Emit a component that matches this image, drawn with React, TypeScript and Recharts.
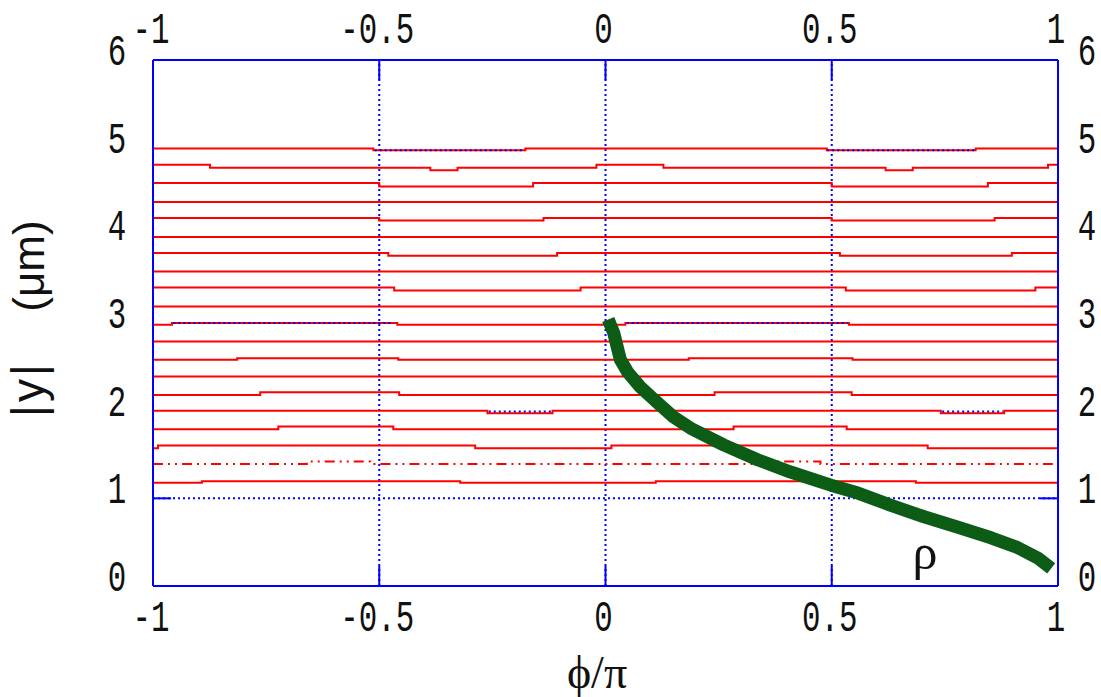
import * as React from 'react';
import { LineChart, Line, XAxis, YAxis, ReferenceLine } from 'recharts';

type P = [number, number];

// x ticks (phi/pi) and y ticks (|y| in um)
const xTicks = [-1, -0.5, 0, 0.5, 1];
const yTicks = [0, 1, 2, 3, 4, 5, 6];
const xGrid = [-0.5, 0, 0.5];
const yGrid = [1];

// red contours, [x where the level starts, level] (step after)
const c01: P[] = [[-1, 4.99], [-0.513, 4.97], [-0.177, 4.99], [0.489, 4.97], [0.818, 4.99], [1, 4.99]];
const c02: P[] = [[-1, 4.806], [-0.874, 4.772], [-0.387, 4.741], [-0.327, 4.772], [-0.02, 4.806], [0.128, 4.772], [0.619, 4.741], [0.679, 4.772], [0.978, 4.806], [1, 4.806]];
const c03: P[] = [[-1, 4.597], [-0.5, 4.558], [-0.16, 4.597], [0.5, 4.558], [0.845, 4.597], [1, 4.597]];
const c04: P[] = [[-1, 4.38], [1, 4.38]];
const c05: P[] = [[-1, 4.198], [-0.5, 4.17], [-0.137, 4.198], [0.5, 4.17], [0.86, 4.198], [1, 4.198]];
const c06: P[] = [[-1, 3.981], [1, 3.981]];
const c07: P[] = [[-1, 3.798], [-0.48, 3.767], [-0.107, 3.798], [0.518, 3.767], [0.898, 3.798], [1, 3.798]];
const c08: P[] = [[-1, 3.588], [1, 3.588]];
const c09: P[] = [[-1, 3.405], [-0.467, 3.371], [-0.055, 3.405], [0.531, 3.371], [0.95, 3.405], [1, 3.405]];
const c10: P[] = [[-1, 3.188], [1, 3.188]];
const c11: P[] = [[-1, 2.979], [-0.958, 2.999], [-0.46, 2.979], [0.044, 2.999], [0.538, 2.979], [1, 2.979]];
const c12: P[] = [[-1, 2.789], [1, 2.789]];
const c13: P[] = [[-1, 2.58], [-0.814, 2.599], [-0.458, 2.58], [0.184, 2.599], [0.546, 2.58], [1, 2.58]];
const c14: P[] = [[-1, 2.389], [1, 2.389]];
const c15: P[] = [[-1, 2.18], [-0.763, 2.211], [-0.456, 2.18], [0.241, 2.211], [0.544, 2.18], [1, 2.18]];
const c16: P[] = [[-1, 1.998], [-0.261, 1.971], [-0.117, 1.998], [0.741, 1.971], [0.881, 1.998], [1, 1.998]];
const c17: P[] = [[-1, 1.789], [-0.723, 1.818], [-0.469, 1.789], [0.283, 1.818], [0.533, 1.789], [1, 1.789]];
const c18: P[] = [[-1, 1.572], [-0.989, 1.602], [-0.288, 1.572], [0.013, 1.602], [0.712, 1.572], [1, 1.572]];
const c20: P[] = [[-1, 1.179], [-0.892, 1.196], [-0.321, 1.179], [0.111, 1.196], [0.686, 1.179], [1, 1.179]];
// dash-dot one
const c19: P[] = [[-1, 1.393], [-0.66, 1.419], [-0.52, 1.393], [0.343, 1.419], [0.475, 1.393], [1, 1.393]];

// blue dotted pieces lying on some contours
const b01a: P[] = [[-0.51, 4.97], [-0.18, 4.97]];
const b01b: P[] = [[0.49, 4.97], [0.815, 4.97]];
const b11a: P[] = [[-0.955, 2.999], [-0.47, 2.999]];
const b11b: P[] = [[0.047, 2.999], [0.535, 2.999]];
const b16a: P[] = [[-0.258, 1.99], [-0.12, 1.99]];
const b16b: P[] = [[0.744, 1.99], [0.878, 1.99]];

// rho curve
const rho: P[] = [
  [0.006, 3.04], [0.018, 2.89], [0.033, 2.58], [0.049, 2.44], [0.077, 2.27], [0.115, 2.09],
  [0.15, 1.93], [0.188, 1.8], [0.261, 1.61], [0.336, 1.44], [0.409, 1.3], [0.498, 1.15],
  [0.558, 1.06], [0.631, 0.92], [0.704, 0.79], [0.779, 0.67], [0.852, 0.55], [0.91, 0.44],
  [0.955, 0.32], [0.985, 0.2],
];

const redSolid = [c01, c02, c03, c04, c05, c06, c07, c08, c09, c10, c11, c12, c13, c14, c15, c16, c17, c18, c20];
const blueDots = [b01a, b01b, b11a, b11b, b16a, b16b];

const rows = (pts: P[]) => pts.map(([x, y]) => ({ x, y }));

const BLUE = '#0000ff';
const RED = '#ff0000';
const tickFont = '"Liberation Mono", "DejaVu Sans Mono", monospace';

const numText = (x: number, y: number, v: number) => (
  <text
    transform={`translate(${x},${y}) scale(0.7,1)`}
    textAnchor="middle"
    fontFamily={tickFont}
    fontSize={44}
    fill="#111"
  >
    {String(v)}
  </text>
);

const BottomTick = (p: any) => <g>{numText(p.x - 2, 631, p.payload.value)}</g>;
const TopTick = (p: any) => <g>{numText(p.x - 2, 43, p.payload.value)}</g>;
const LeftTick = (p: any) => <g>{numText(117, p.y + 5, p.payload.value)}</g>;
const RightTick = (p: any) => <g>{numText(1087, p.y + 5, p.payload.value)}</g>;

export default function App() {
  return (
    <div style={{ position: 'absolute', left: 0, top: 0, background: '#fff' }}>
      <LineChart width={1101} height={697} margin={{ top: 20, right: 3, bottom: 51, left: 93 }}>
        <XAxis xAxisId="b" dataKey="x" type="number" domain={[-1, 1]} ticks={xTicks}
          orientation="bottom" height={60} axisLine={{ stroke: BLUE, strokeWidth: 2 }}
          tickLine={false} tick={<BottomTick />} allowDataOverflow />
        <XAxis xAxisId="t" dataKey="x" type="number" domain={[-1, 1]} ticks={xTicks}
          orientation="top" height={40} axisLine={{ stroke: BLUE, strokeWidth: 2 }}
          tickLine={false} tick={<TopTick />} allowDataOverflow />
        <YAxis yAxisId="l" type="number" domain={[0, 6]} ticks={yTicks} width={60}
          axisLine={{ stroke: BLUE, strokeWidth: 2 }} tickLine={false} tick={<LeftTick />} allowDataOverflow />
        <YAxis yAxisId="r" orientation="right" type="number" domain={[0, 6]} ticks={yTicks} width={40}
          axisLine={{ stroke: BLUE, strokeWidth: 2 }} tickLine={false} tick={<RightTick />} allowDataOverflow />

        {xGrid.map((g) => (
          <ReferenceLine key={'gx' + g} xAxisId="b" yAxisId="l" x={g} stroke={BLUE} strokeWidth={2} strokeDasharray="2 3" />
        ))}
        {yGrid.map((g) => (
          <ReferenceLine key={'gy' + g} xAxisId="b" yAxisId="l" y={g} stroke={BLUE} strokeWidth={2} strokeDasharray="2 3" />
        ))}
        {xGrid.map((g) => (
          <ReferenceLine key={'tb' + g} xAxisId="b" yAxisId="l" stroke={BLUE} strokeWidth={2}
            segment={[{ x: g, y: 0 }, { x: g, y: 0.23 }]} />
        ))}
        {xGrid.map((g) => (
          <ReferenceLine key={'tt' + g} xAxisId="b" yAxisId="l" stroke={BLUE} strokeWidth={2}
            segment={[{ x: g, y: 6 }, { x: g, y: 5.77 }]} />
        ))}
        {yGrid.map((g) => (
          <ReferenceLine key={'tl' + g} xAxisId="b" yAxisId="l" stroke={BLUE} strokeWidth={2}
            segment={[{ x: -1, y: g }, { x: -0.96, y: g }]} />
        ))}
        {yGrid.map((g) => (
          <ReferenceLine key={'tr' + g} xAxisId="b" yAxisId="l" stroke={BLUE} strokeWidth={2}
            segment={[{ x: 0.96, y: g }, { x: 1, y: g }]} />
        ))}

        {redSolid.map((c, i) => (
          <Line key={'c' + i} xAxisId="b" yAxisId="l" data={rows(c)} dataKey="y" type="stepAfter"
            stroke={RED} strokeWidth={2} dot={false} activeDot={false} isAnimationActive={false} />
        ))}
        <Line xAxisId="b" yAxisId="l" data={rows(c19)} dataKey="y" type="stepAfter"
          stroke={RED} strokeWidth={2} strokeDasharray="10 5 2 5 2 5" dot={false} activeDot={false} isAnimationActive={false} />
        {blueDots.map((b, i) => (
          <Line key={'b' + i} xAxisId="b" yAxisId="l" data={rows(b)} dataKey="y" type="linear"
            stroke={BLUE} strokeWidth={2} strokeDasharray="2 3" dot={false} activeDot={false} isAnimationActive={false} />
        ))}

        <Line xAxisId="b" yAxisId="l" data={rows(rho)} dataKey="y" type="linear"
          stroke="#0d5c15" strokeWidth={13} strokeLinejoin="round" dot={false} activeDot={false} isAnimationActive={false} />

        <text x={925} y={569} textAnchor="middle" fontFamily='"Liberation Serif", serif' fontSize={50} fill="#111">ρ</text>
        <text x={597} y={688} textAnchor="middle" fontFamily='"Liberation Serif", serif' fontSize={46} fill="#111">ϕ/π</text>
        <text transform="translate(44,389) rotate(-90)" textAnchor="middle" fontFamily='"Liberation Sans", sans-serif' fontSize={46} letterSpacing={3} fill="#111">|y|</text>
        <text transform="translate(44,266) rotate(-90)" textAnchor="middle" fontFamily='"Liberation Sans", sans-serif' fontSize={44} fill="#111">(μm)</text>
      </LineChart>
    </div>
  );
}
